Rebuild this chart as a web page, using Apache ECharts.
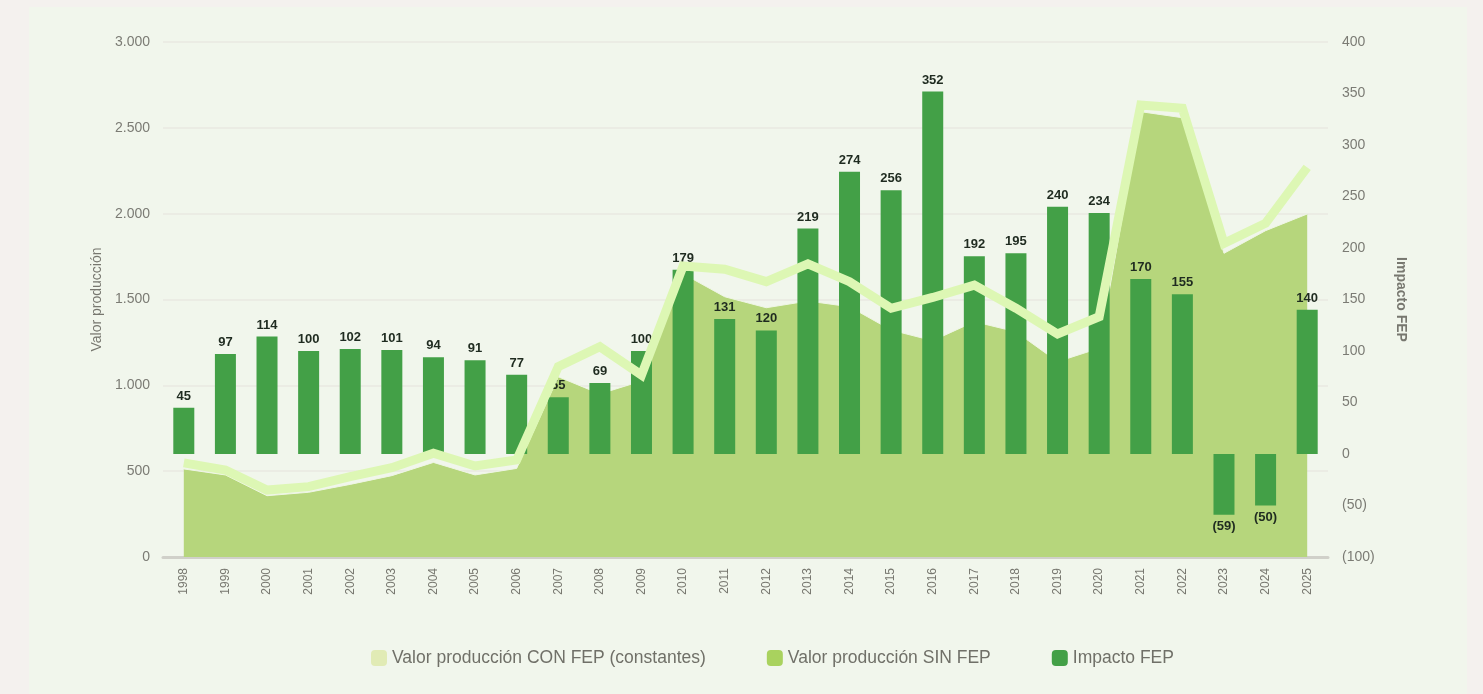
<!DOCTYPE html>
<html>
<head>
<meta charset="UTF-8">
<title>Valor producción e impacto FEP</title>
<script src="https://cdn.jsdelivr.net/npm/echarts@6/dist/echarts.min.js"></script>
<style>
  body { margin: 0; background: #f4f1ee; }
  #chart { position: absolute; left: 29px; top: 7px; width: 1438px; height: 687px; background: #f1f6ec; }
</style>
</head>
<body>
<div id="chart"></div>
<script type="text/javascript">
  // datos
  var years = ['1998','1999','2000','2001','2002','2003','2004','2005','2006','2007','2008','2009','2010','2011',
               '2012','2013','2014','2015','2016','2017','2018','2019','2020','2021','2022','2023','2024','2025'];
  var impactoFep = [45, 97, 114, 100, 102, 101, 94, 91, 77, 55, 69, 100, 179, 131,
                    120, 219, 274, 256, 352, 192, 195, 240, 234, 170, 155, -59, -50, 140];
  var valorSinFep = [513, 478, 357, 377, 423, 474, 551, 478, 516, 1050, 950, 1025, 1650, 1516,
                     1452, 1491, 1458, 1322, 1260, 1371, 1312, 1138, 1216, 2594, 2559, 1769, 1901, 1998];
  var valorConFep = [548, 507, 390, 410, 468, 520, 604, 530, 565, 1109, 1225, 1060, 1695, 1676,
                     1604, 1707, 1604, 1449, 1512, 1584, 1449, 1299, 1400, 2633, 2614, 1827, 1944, 2270];

  var fontFam = '"Liberation Sans", Arial, sans-serif';

  function miles(v) {
    return String(v).replace(/\B(?=(\d{3})+(?!\d))/g, '.');
  }
  function paren(v) {
    return v < 0 ? '(' + Math.abs(v) + ')' : String(v);
  }

  // barras: etiqueta abajo si es negativa
  var barData = impactoFep.map(function (v) {
    return { value: v, label: { position: v < 0 ? 'bottom' : 'top' } };
  });

  var myChart = echarts.init(document.getElementById('chart'));

  var option = {
    backgroundColor: 'transparent',
    textStyle: { fontFamily: fontFam },
    animation: false,
    grid: { left: 134, right: 139, top: 35, bottom: 137 },
    legend: {
      top: 637,
      left: 337,
      itemWidth: 16,
      itemHeight: 16,
      itemGap: 61,
      icon: 'roundRect',
      textStyle: { fontSize: 17.5, color: '#707068', fontFamily: fontFam },
      data: ['Valor producción CON FEP (constantes)', 'Valor producción SIN FEP', 'Impacto FEP']
    },
    xAxis: {
      type: 'category',
      data: years,
      boundaryGap: true,
      axisTick: { show: false },
      axisLine: { onZero: false, lineStyle: { color: '#d0d0c9', width: 3 } },
      axisLabel: { rotate: 90, fontSize: 12, color: '#77776f', margin: 11 }
    },
    yAxis: [
      {
        type: 'value',
        min: 0, max: 3000, interval: 500,
        name: 'Valor producción',
        nameLocation: 'middle',
        nameGap: 58,
        nameTextStyle: { fontSize: 14, color: '#77776f', fontWeight: 500 },
        axisLine: { show: false },
        axisTick: { show: false },
        axisLabel: { fontSize: 14, color: '#7b7b74', margin: 13, formatter: miles },
        splitLine: { lineStyle: { color: '#e8e8e2', width: 1.5 } }
      },
      {
        type: 'value',
        min: -100, max: 400, interval: 50,
        name: 'Impacto FEP',
        nameLocation: 'middle',
        nameRotate: -90,
        nameGap: 66,
        nameTextStyle: { fontSize: 14, color: '#77776f', fontWeight: 'bold' },
        axisLine: { show: false },
        axisTick: { show: false },
        axisLabel: { fontSize: 14, color: '#7b7b74', margin: 14, formatter: paren },
        splitLine: { show: false }
      }
    ],
    series: [
      {
        name: 'Valor producción SIN FEP',
        type: 'line',
        yAxisIndex: 0,
        data: valorSinFep,
        showSymbol: false,
        z: 2,
        itemStyle: { color: '#a9d25e' },
        lineStyle: { color: '#eef5e4', width: 1 },
        areaStyle: { color: '#b6d67c', opacity: 1 }
      },
      {
        name: 'Impacto FEP',
        type: 'bar',
        yAxisIndex: 1,
        data: barData,
        barWidth: 21,
        z: 3,
        itemStyle: { color: '#43a047' },
        label: {
          show: true,
          distance: 5,
          fontSize: 13,
          fontWeight: 'bold',
          color: '#1f2b20',
          formatter: function (p) { return paren(p.value); }
        }
      },
      {
        name: 'Valor producción CON FEP (constantes)',
        type: 'line',
        yAxisIndex: 0,
        data: valorConFep,
        showSymbol: false,
        z: 4,
        itemStyle: { color: '#e1ebb5' },
        lineStyle: { color: '#ddf7b4', width: 9, join: 'miter' }
      }
    ]
  };

  myChart.setOption(option);
</script>
</body>
</html>
